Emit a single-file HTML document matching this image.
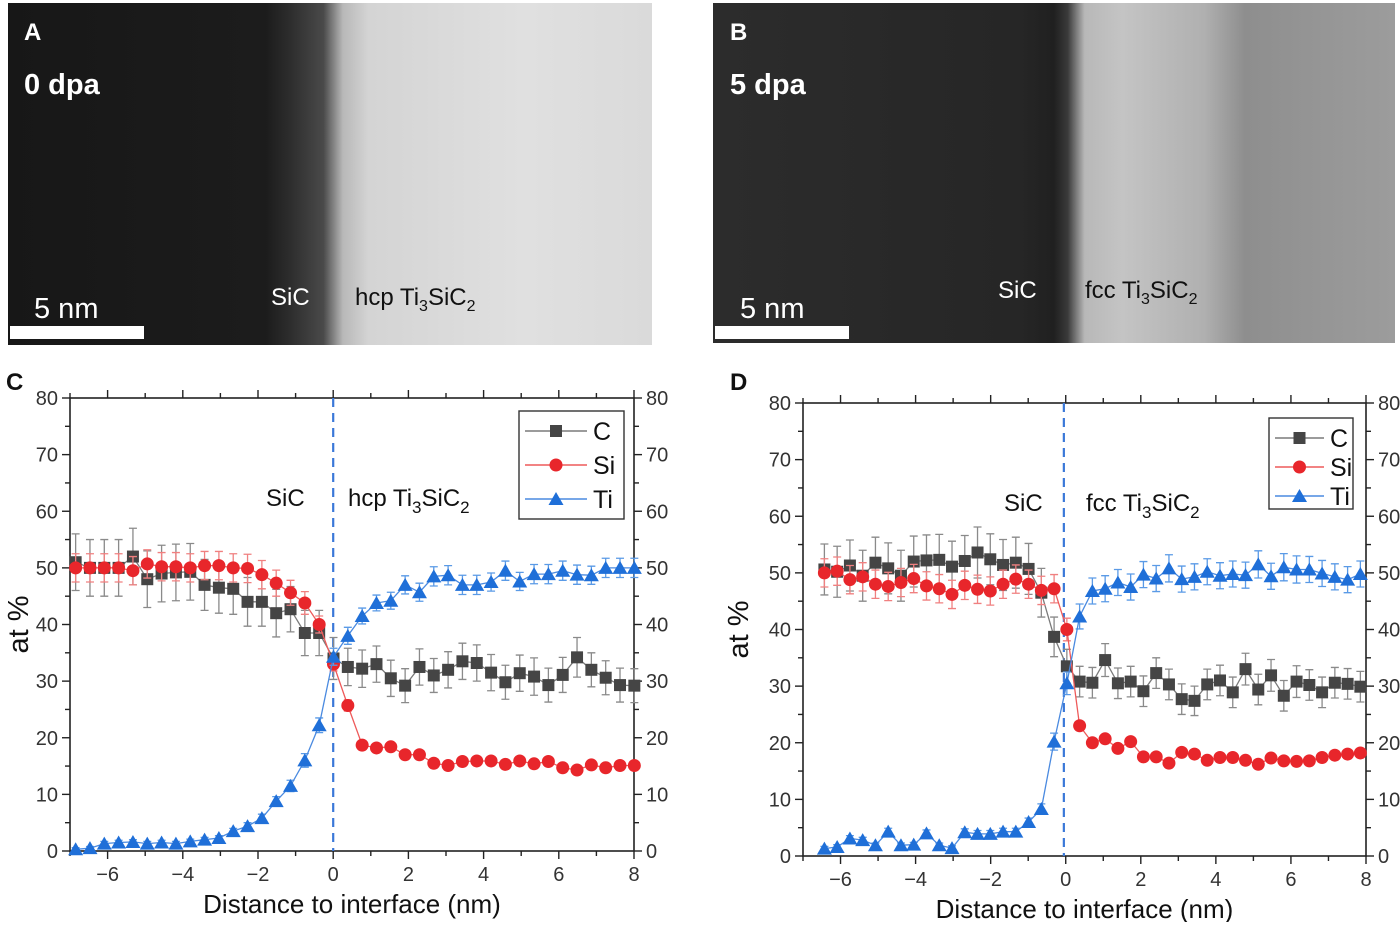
<!DOCTYPE html>
<html><head><meta charset="utf-8">
<style>
html,body{margin:0;padding:0;background:#fff;}
body{width:1400px;height:922px;overflow:hidden;position:relative;font-family:"Liberation Sans",sans-serif;}
svg text{font-family:"Liberation Sans",sans-serif;}
</style></head>
<body>
<svg id="fig" width="1400" height="922" viewBox="0 0 1400 922" xmlns="http://www.w3.org/2000/svg">
<defs>
<linearGradient id="gA" x1="0" x2="1" y1="0" y2="0">
<stop offset="0" stop-color="#171717"/><stop offset="0.40" stop-color="#1c1c1c"/><stop offset="0.44" stop-color="#2e2e2e"/><stop offset="0.49" stop-color="#4a4a4a"/><stop offset="0.52" stop-color="#b8b8b8"/><stop offset="0.56" stop-color="#d4d4d4"/><stop offset="0.8" stop-color="#e0e0e0"/><stop offset="1" stop-color="#dadada"/>
</linearGradient>
<linearGradient id="gB" x1="0" x2="1" y1="0" y2="0">
<stop offset="0" stop-color="#2c2c2c"/><stop offset="0.45" stop-color="#262626"/><stop offset="0.5" stop-color="#202020"/><stop offset="0.52" stop-color="#3a3a3a"/><stop offset="0.545" stop-color="#b8b8b8"/><stop offset="0.6" stop-color="#c4c4c4"/><stop offset="0.72" stop-color="#b0b0b0"/><stop offset="0.78" stop-color="#8e8e8e"/><stop offset="0.9" stop-color="#969696"/><stop offset="1" stop-color="#9c9c9c"/>
</linearGradient>
</defs>
<g>
<rect x="8" y="3" width="644" height="342" fill="url(#gA)"/>
<text x="24" y="40" fill="#fff" font-size="24" font-weight="bold">A</text>
<text x="24" y="94" fill="#fff" font-size="29" font-weight="bold">0 dpa</text>
<text x="34" y="318" fill="#fff" font-size="29">5 nm</text>
<rect x="10" y="326" width="134" height="13" fill="#fff"/>
<text x="271" y="305" fill="#fff" font-size="24">SiC</text>
<text x="355" y="305" fill="#111" font-size="24">hcp Ti<tspan font-size="16" dy="6">3</tspan><tspan dy="-6">SiC</tspan><tspan font-size="16" dy="6">2</tspan></text>
</g>
<g>
<rect x="713" y="3" width="682" height="340" fill="url(#gB)"/>
<text x="730" y="40" fill="#fff" font-size="24" font-weight="bold">B</text>
<text x="730" y="94" fill="#fff" font-size="29" font-weight="bold">5 dpa</text>
<text x="740" y="318" fill="#fff" font-size="29">5 nm</text>
<rect x="715" y="326" width="134" height="13" fill="#fff"/>
<text x="998" y="298" fill="#fff" font-size="24">SiC</text>
<text x="1085" y="298" fill="#111" font-size="24">fcc Ti<tspan font-size="16" dy="6">3</tspan><tspan dy="-6">SiC</tspan><tspan font-size="16" dy="6">2</tspan></text>
</g>
<text x="6" y="390" font-size="24" font-weight="bold" fill="#111">C</text>
<text x="730" y="390" font-size="24" font-weight="bold" fill="#111">D</text>
<g id="chartC"></g>
<g id="chartD"></g>
</svg>
<script>
// Chart C data (0 dpa)
const cX0 = -6.85, cStep = 0.381, cCount = 40;
const cCarbon = [51,50,50,50,52,48,49,49.2,49.3,47,46.5,46.3,44,44,42,42.7,38.5,38.5,34,32.5,32.2,33,30.5,29.2,32.5,31,32,33.5,33.2,31.5,29.8,31.4,30.8,29.3,31.1,34.2,32,30.6,29.3,29.2];
const cSilicon = [50,50,50,50,49.5,50.7,50.2,50.2,50,50.4,50.4,50,49.9,48.8,47.3,45.6,43.8,40,33,25.7,18.7,18.2,18.4,17,17,15.5,15.1,15.8,15.9,15.9,15.3,15.9,15.4,15.8,14.7,14.3,15.2,14.7,15.1,15.1];
const cTitanium = [0.3,0.5,1.3,1.5,1.6,1.3,1.5,1.3,1.7,2,2.3,3.5,4.4,5.8,8.8,11.5,16,22.2,34.3,38,41.5,43.8,44.2,47,45.7,48.5,48.7,47,47,47.5,49.5,47.6,48.9,48.9,49.5,48.8,48.7,50,50,50];
const cErrC = [5,5,5,5,5,5,5,5,5,4.5,4.5,4.5,4.3,4.3,4.2,4,4,4,3.7,3.3,3.3,3.2,3.2,3,3.2,3,3.2,3.2,3.2,3.2,3,3.2,3.3,3,3.1,3.5,3,3,3,3];
const cErrSi = [2.5,2.5,2.5,2.5,2.5,2.5,2.5,2.5,2.5,2.5,2.5,2.5,2.5,2.5,2.3,2.2,2,1.5,1.2,1,0.7,0.7,0.7,0.6,0.6,0.6,0.6,0.6,0.6,0.6,0.6,0.6,0.6,0.6,0.6,0.6,0.6,0.6,0.6,0.6];
const cErrTi = [0.3,0.3,0.4,0.4,0.4,0.4,0.4,0.4,0.4,0.4,0.4,0.5,0.6,0.7,0.8,1,1.2,1.3,1.5,1.5,1.4,1.4,1.5,1.6,1.6,1.7,1.7,1.7,1.7,1.6,1.7,1.6,1.7,1.7,1.7,1.7,1.6,1.7,1.7,1.7];
// Chart D data (5 dpa)
const dX0 = -6.43, dStep = 0.34, dCount = 43;
const dCarbon = [50.6,50.2,51.3,49.5,51.8,50.8,49.5,52,52.2,52.3,51.1,52.1,53.6,52.4,51.4,51.8,50.7,46.5,38.7,33.5,30.8,30.6,34.6,30.5,30.8,29.1,32.3,30.3,27.7,27.4,30.3,31,28.9,33,29.4,31.9,28.3,30.8,30.2,28.9,30.6,30.4,29.9];
const dSilicon = [50,50.3,48.8,49.3,48,47.6,48.3,49,47.7,47.2,46.2,47.8,47.1,46.8,48,48.9,48,46.9,47.2,40,23,20,20.7,19,20.2,17.5,17.5,16.4,18.3,18,16.9,17.4,17.4,16.9,16.2,17.3,16.8,16.7,16.8,17.4,17.8,18,18.2];
const dTitanium = [1.3,1.6,3.1,2.8,1.9,4.3,1.9,2,4,1.9,1.4,4.2,3.9,3.9,4.3,4.3,6,8.3,20.2,30.5,42.3,46.8,47.2,48.3,47.5,49.7,49,50.8,48.9,49.3,50.2,49.5,49.8,49.6,51.5,49.4,51,50.6,50.6,49.9,49.3,48.8,49.8];
const dErrC = [4.5,4.5,4.5,4.5,4.5,4.5,4.5,4.5,4.5,4.5,4.5,4.5,4.5,4.5,4.5,4.5,4.5,4.3,3.5,3,2.7,2.7,2.9,2.7,2.7,2.7,2.7,2.7,2.7,2.6,2.7,2.7,2.7,2.8,2.7,2.8,2.7,2.8,2.7,2.7,2.7,2.7,2.7];
const dErrSi = [2.5,2.5,2.5,2.5,2.5,2.5,2.5,2.5,2.5,2.5,2.5,2.5,2.5,2.5,2.5,2.5,2.5,2.5,2.5,2,0.8,0.7,0.7,0.7,0.7,0.6,0.6,0.6,0.6,0.6,0.6,0.6,0.6,0.6,0.6,0.6,0.6,0.6,0.6,0.6,0.6,0.6,0.6];
const dErrTi = [0.4,0.4,0.5,0.5,0.4,0.6,0.4,0.4,0.6,0.4,0.4,0.6,0.6,0.6,0.6,0.6,0.7,0.9,1.5,2,2.2,2.3,2.3,2.3,2.3,2.3,2.3,2.4,2.3,2.3,2.3,2.3,2.3,2.3,2.4,2.3,2.4,2.4,2.3,2.3,2.3,2.3,2.3];
const xTicks = [-6,-4,-2,0,2,4,6,8];
const yTicks = [0,10,20,30,40,50,60,70,80];

const NS = "http://www.w3.org/2000/svg";
function mk(parent, tag, attrs){
  const e = document.createElementNS(NS, tag);
  for (const k in attrs) e.setAttribute(k, attrs[k]);
  parent.appendChild(e);
  return e;
}
function range(x0, step, n){ const a=[]; for(let i=0;i<n;i++) a.push(x0+step*i); return a; }

function drawChart(g, cfg){
  const L=cfg.left, R=cfg.right, T=cfg.top, B=cfg.bottom;
  const xs = v => L + (v - (-7)) / 15 * (R - L);
  const ys = v => B - v / 80 * (B - T);
  const axisCol = "#222";
  const frame = mk(g, "rect", {x:L, y:T, width:R-L, height:B-T, fill:"none", stroke:axisCol, "stroke-width":1.6});
  
  
  for (let v=-7; v<=8; v++){
    const major = xTicks.includes(v);
    const len = major ? 8 : 5;
    const tb = mk(g, "line", {x1:xs(v), x2:xs(v), y1:B, y2:B+len, stroke:axisCol, "stroke-width":1.4});
    
    
    const tt = mk(g, "line", {x1:xs(v), x2:xs(v), y1:T, y2:T-len, stroke:axisCol, "stroke-width":1.4});
    
    
  }
  xTicks.forEach(v=>{
    const t = mk(g, "text", {x:xs(v), y:B+30, "text-anchor":"middle", "font-size":20, fill:"#333"});
    t.textContent = v < 0 ? "\u2212" + Math.abs(v) : String(v);
    
    
  });
  for (let v=0; v<=80; v+=5){
    const major = v % 10 === 0;
    const len = major ? 8 : 5;
    const tl = mk(g, "line", {x1:L-len, x2:L, y1:ys(v), y2:ys(v), stroke:axisCol, "stroke-width":1.4});
    
    
    const tr = mk(g, "line", {x1:R, x2:R+len, y1:ys(v), y2:ys(v), stroke:axisCol, "stroke-width":1.4});
    
    
  }
  yTicks.forEach(v=>{
    const a = mk(g, "text", {x:L-12, y:ys(v)+7, "text-anchor":"end", "font-size":20, fill:"#333"});
    a.textContent = String(v);
    
    
    const b = mk(g, "text", {x:R+12, y:ys(v)+7, "text-anchor":"start", "font-size":20, fill:"#333"});
    b.textContent = String(v);
    
    
  });
  const yt = mk(g, "text", {x:0, y:0, transform:`translate(${cfg.yTitleX},${(T+B)/2}) rotate(-90)`, "text-anchor":"middle", "font-size":29, fill:"#111"});
  yt.textContent = "at %";
  
  
  const xt = mk(g, "text", {x:(L+R)/2, y:B+62, "text-anchor":"middle", "font-size":26, fill:"#111"});
  xt.textContent = "Distance to interface (nm)";
  
  
  const il = mk(g, "line", {x1:xs(cfg.iface), x2:xs(cfg.iface), y1:T, y2:B, stroke:"#3a78d8", "stroke-width":2.2, "stroke-dasharray":"9,6"});
  
  
  const s1 = mk(g, "text", {x:cfg.sicX, y:T+108, "font-size":24, fill:"#111"});
  s1.textContent = "SiC";
  
  
  const s2 = mk(g, "text", {x:cfg.tiX, y:T+108, "font-size":24, fill:"#111"});
  s2.innerHTML = cfg.phase + ' Ti<tspan font-size="17" dy="7">3</tspan><tspan dy="-7">SiC</tspan><tspan font-size="17" dy="7">2</tspan>';
  
  
  const xsArr = cfg.xVals;
  cfg.series.forEach(s=>{
    const sg = mk(g, "g", {});
    
    
    s.vals.forEach((v,i)=>{
      const x = xs(xsArr[i]), e = s.err[i];
      const eb = mk(sg, "path", {d:`M${x},${ys(v+e)}V${ys(v-e)}M${x-4},${ys(v+e)}H${x+4}M${x-4},${ys(v-e)}H${x+4}`, stroke:s.errCol, "stroke-width":1.3, fill:"none"});
      
      
    });
    const pts = s.vals.map((v,i)=>xs(xsArr[i]).toFixed(1)+","+ys(v).toFixed(1)).join(" ");
    const pl = mk(sg, "polyline", {points:pts, fill:"none", stroke:s.lineCol, "stroke-width":1.3});
    
    
    s.vals.forEach((v,i)=>{
      const x = xs(xsArr[i]), y = ys(v);
      let m;
      if (s.shape==="sq") m = mk(sg, "rect", {x:x-6, y:y-6, width:12, height:12, fill:s.col});
      else if (s.shape==="ci") m = mk(sg, "circle", {cx:x, cy:y, r:6.5, fill:s.col});
      else m = mk(sg, "path", {d:`M${x},${y-7}L${x+7.5},${y+6}L${x-7.5},${y+6}Z`, fill:s.col});
      
      
    });
  });
  const lg = mk(g, "g", {});
  
  
  const lb = mk(lg, "rect", {x:cfg.lg.x, y:cfg.lg.y, width:cfg.lg.w, height:cfg.lg.h, fill:"#fff", stroke:"#333", "stroke-width":1.4});
  
  
  cfg.series.forEach((s,i)=>{
    const y = cfg.lg.y + 20 + i*cfg.lg.dy;
    const x1 = cfg.lg.x + 6, x2 = cfg.lg.x + cfg.lg.lineW, mx = (x1+x2)/2;
    const ln = mk(lg, "line", {x1:x1, x2:x2, y1:y, y2:y, stroke:s.lineCol, "stroke-width":1.4});
    
    
    let m;
    if (s.shape==="sq") m = mk(lg, "rect", {x:mx-6, y:y-6, width:12, height:12, fill:s.col});
    else if (s.shape==="ci") m = mk(lg, "circle", {cx:mx, cy:y, r:6.5, fill:s.col});
    else m = mk(lg, "path", {d:`M${mx},${y-7}L${mx+7.5},${y+6}L${mx-7.5},${y+6}Z`, fill:s.col});
    
    
    const t = mk(lg, "text", {x:x2+6, y:y+9, "font-size":25, fill:"#111"});
    t.textContent = s.name;
    
    
  });
}

const mkSeries = (c, si, ti, ec, es, et) => [
  {name:"C", vals:c, err:ec, col:"#454545", lineCol:"#7a7a7a", errCol:"#8a8a8a", shape:"sq"},
  {name:"Si", vals:si, err:es, col:"#e8262b", lineCol:"#ee5a5a", errCol:"#f08080", shape:"ci"},
  {name:"Ti", vals:ti, err:et, col:"#1f6fd8", lineCol:"#4a8ae0", errCol:"#5a9ae6", shape:"tr"}
];

drawChart(document.getElementById("chartC"), {
  left:70, right:634, top:398, bottom:851, iface:0, yTitleX:28,
  sicX:266, tiX:348, phase:"hcp",
  xVals: range(cX0, cStep, cCount),
  series: mkSeries(cCarbon, cSilicon, cTitanium, cErrC, cErrSi, cErrTi),
  lg:{x:519, y:411, w:105, h:108, dy:34, lineW:68}
});
drawChart(document.getElementById("chartD"), {
  left:803, right:1366, top:403, bottom:856, iface:-0.05, yTitleX:748,
  sicX:1004, tiX:1086, phase:"fcc",
  xVals: range(dX0, dStep, dCount),
  series: mkSeries(dCarbon, dSilicon, dTitanium, dErrC, dErrSi, dErrTi),
  lg:{x:1269, y:418, w:84, h:91, dy:29, lineW:55}
});
</script>
</body></html>
